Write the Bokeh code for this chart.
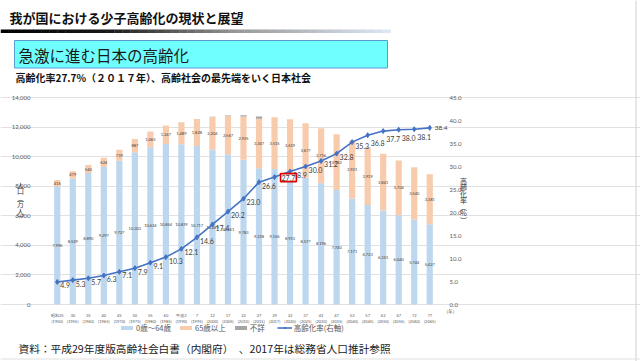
import numpy as np
from bokeh.plotting import figure
from bokeh.models import (Range1d, LinearAxis, FixedTicker, NumeralTickFormatter, Span,
                          ColumnDataSource, LabelSet, Label, Legend, LegendItem, BoxAnnotation)
from bokeh.embed import file_html
from bokeh.resources import INLINE
from bokeh.core.properties import value

JP = "Noto Sans CJK JP"
NUM = "Lato"

# ---------------- data ----------------
page_title = "我が国における少子高齢化の現状と展望"
banner_text = "急激に進む日本の高齢化"
subtitle_text = "高齢化率27.7%（２０１７年）、高齢社会の最先端をいく日本社会"
source_text = "資料：平成29年度版高齢社会白書（内閣府）　、2017年は総務省人口推計参照"

year_labels = ["昭和25\n(1950)", "30\n(1955)", "35\n(1960)", "40\n(1965)", "45\n(1970)",
               "50\n(1975)", "55\n(1980)", "60\n(1985)", "平成2\n(1990)", "7\n(1995)",
               "12\n(2000)", "17\n(2005)", "22\n(2010)", "27\n(2015)", "29\n(2017)",
               "32\n(2020)", "37\n(2025)", "42\n(2030)", "47\n(2035)", "52\n(2040)",
               "57\n(2045)", "62\n(2050)", "67\n(2055)", "72\n(2060)", "77\n(2065)"]
pop_0_64 = [7996, 8529, 8890, 9297, 9727, 10303, 10634, 10854, 10839, 10717,
            10469, 10161, 9783, 9218, 9156, 8913, 8577, 8196, 7740, 7171,
            6723, 6351, 6040, 5744, 5427]
pop_65_over = [416, 479, 540, 624, 739, 887, 1065, 1247, 1489, 1828,
               2204, 2567, 2925, 3347, 3515, 3619, 3677, 3716, 3782, 3921,
               3919, 3841, 3704, 3540, 3381]
pop_unknown = [0, 0, 0, 0, 0, 0, 0, 0, 0, 0,
               20, 49, 98, 144, 0, 0, 0, 0, 0, 0,
               0, 0, 0, 0, 0]
aging_rate = [4.9, 5.3, 5.7, 6.3, 7.1, 7.9, 9.1, 10.3, 12.1, 14.6,
              17.4, 20.2, 23.0, 26.6, 27.7, 28.9, 30.0, 31.2, 32.8, 35.3,
              36.8, 37.7, 38.0, 38.1, 38.4]
pop_ticks = [0, 2000, 4000, 6000, 8000, 10000, 12000, 14000]
rate_ticks = [0, 5, 10, 15, 20, 25, 30, 35, 40, 45]
series_names = ["0歳～64歳", "65歳以上", "不詳", "高齢化率(右軸)"]
left_title = "人口（万人）"
right_title = "高齢化率（%）"
year_unit = "（年）"
highlight_index = 14

# ---------------- styles / geometry ----------------
W, H = 640, 361
C_YOUNG = "#BDD7EE"
C_OLD = "#F8CBAD"
C_UNK = "#A5A5A5"
C_LINE = "#4472C4"
C_TXT = "#595959"
n = len(year_labels)
Y_MAX = 14000
R_MAX = 45
PX0, PX1, PY0, PY1 = 49, 437, 97, 304   # chart plot area in page pixels


def dx(px):
    return -0.5 + (px - PX0) / (PX1 - PX0) * n


def dy(py):
    return (PY1 - py) / (PY1 - PY0) * Y_MAX


def dr(py):
    return (PY1 - py) / (PY1 - PY0) * R_MAX


xs = list(range(n))
src = ColumnDataSource(dict(
    x=xs, young=pop_0_64, old=pop_65_over, unk=pop_unknown,
    young_mid=[v / 2 for v in pop_0_64],
    old_mid=[a + b / 2 for a, b in zip(pop_0_64, pop_65_over)],
    young_txt=[f"{v:,}" for v in pop_0_64],
    old_txt=[f"{v:,}" for v in pop_65_over],
))

p = figure(width=W, height=H, x_range=Range1d(dx(0), dx(W)), y_range=Range1d(dy(H), dy(0)),
           output_backend="svg", toolbar_location=None, min_border=0)
p.outline_line_color = None
p.xgrid.visible = False
p.ygrid.ticker = FixedTicker(ticks=pop_ticks)
p.ygrid.grid_line_color = "#D9D9D9"
p.ygrid.grid_line_width = 0.8
p.ygrid.bounds = (-0.5, n - 0.5)

p.extra_y_ranges = {"rate": Range1d(dr(H), dr(0))}

yax = p.yaxis[0]
yax.ticker = FixedTicker(ticks=pop_ticks)
yax.formatter = NumeralTickFormatter(format="0,0")
yax.fixed_location = -0.5
rax = LinearAxis(y_range_name="rate", ticker=FixedTicker(ticks=rate_ticks),
                 formatter=NumeralTickFormatter(format="0.0"), fixed_location=n - 0.5)
p.add_layout(rax, "right")

xax = p.xaxis[0]
xax.ticker = FixedTicker(ticks=xs)
xax.major_label_overrides = {i: lab for i, lab in enumerate(year_labels)}
xax.fixed_location = 0

for ax in [yax, rax, xax]:
    ax.axis_line_color = None
    ax.major_tick_line_color = None
    ax.minor_tick_line_color = None
    ax.major_label_text_color = C_TXT
    ax.major_label_text_font = NUM
yax.major_label_text_font_size = "6px"
rax.major_label_text_font_size = "6px"
yax.major_label_standoff = 13
rax.major_label_standoff = 6
xax.major_label_text_font_size = "4px"
xax.major_label_standoff = 2

bars = p.vbar_stack(["young", "old", "unk"], x="x", width=0.4, source=src,
                    color=[C_YOUNG, C_OLD, C_UNK], line_color=None)

p.text(x="x", y="young_mid", text="young_txt", source=src, text_font=value(NUM),
       text_font_size="4px", text_align="center", text_baseline="middle", text_color="#404040")
p.text(x="x", y="old_mid", text="old_txt", source=src, text_font=value(NUM),
       text_font_size="4px", text_align="center", text_baseline="middle", text_color="#404040")

line_r = p.line(xs, aging_rate, y_range_name="rate", line_color=C_LINE, line_width=1.6)
mark_r = p.scatter(xs, aging_rate, y_range_name="rate", marker="diamond", size=5,
                   fill_color=C_LINE, line_color=C_LINE)

idx = [i for i in range(n) if i not in (highlight_index, n - 1)]
lab_src = ColumnDataSource(dict(
    x=[xs[i] for i in idx], y=[aging_rate[i] for i in idx],
    t=[f"{aging_rate[i]:.1f}" for i in idx],
    dy=[-8 if aging_rate[i] > 36.5 else -3.5 for i in idx],
))
p.add_layout(LabelSet(x="x", y="y", text="t", source=lab_src, y_range_name="rate",
                      x_offset=3, y_offset="dy", text_font=value(NUM), text_font_size="7px",
                      text_color="#404040", text_baseline="middle", text_align="left"))
p.add_layout(Label(x=xs[-1], y=aging_rate[-1], y_range_name="rate", text=f"{aging_rate[-1]:.1f}",
                   x_offset=5, y_offset=0, text_font=NUM, text_font_size="6.5px",
                   text_color="#404040", text_baseline="middle", text_align="left"))
p.add_layout(Label(x=xs[highlight_index], y=aging_rate[highlight_index], y_range_name="rate",
                   text=f"{aging_rate[highlight_index]:.1f}", x_offset=6, y_offset=-0.5,
                   text_font=NUM, text_font_size="7px", text_color="#404040",
                   text_baseline="middle", text_align="left",
                   border_line_color="#E00000", border_line_width=1.6,
                   background_fill_color="white", padding=1))

# vertical (stacked) axis titles
VERT = {"（": "︵", "）": "︶"}


def vertical_title(text, px, py_center, step):
    chars = [VERT.get(c, c) for c in text]
    k = len(chars)
    ys = [dy(py_center + (i - (k - 1) / 2) * step) for i in range(k)]
    s = ColumnDataSource(dict(x=[dx(px)] * k, y=ys, t=chars))
    p.add_layout(LabelSet(x="x", y="y", text="t", source=s, text_font=value(JP),
                          text_font_size="7px", text_color="#333333",
                          text_align="center", text_baseline="middle"))


vertical_title(left_title, 20, 200.5, 6.6)
vertical_title(right_title, 463, 199.5, 6.5)

p.add_layout(Label(x=dx(450), y=dy(310), text=year_unit, text_font=JP, text_font_size="4.5px",
                   text_color=C_TXT, text_align="center", text_baseline="middle"))

legend = Legend(items=[
    LegendItem(label=series_names[0], renderers=[bars[0]]),
    LegendItem(label=series_names[1], renderers=[bars[1]]),
    LegendItem(label=series_names[2], renderers=[bars[2]]),
    LegendItem(label=series_names[3], renderers=[line_r, mark_r]),
], orientation="horizontal", location=(119, H - 333), label_text_font=JP,
    label_text_font_size="7.5px", label_text_color=C_TXT, glyph_width=15, glyph_height=5,
    label_height=8, label_standoff=2, spacing=7, padding=2, margin=0,
    border_line_color=None, background_fill_alpha=0)
p.add_layout(legend, "center")

# ---------------- slide decorations (header / footer) ----------------
p.add_layout(Label(x=dx(9), y=dy(16.5), text=page_title, text_font=JP, text_font_size="13px",
                   text_font_style="bold", text_baseline="middle", text_align="left",
                   text_color="#111111"))

stops_t = [0.0, 0.28, 0.6, 1.0]
stops_c = [(0, 0, 0), (25, 25, 25), (150, 150, 150), (222, 232, 246)]
edges = np.linspace(0, 390, 49)
for a, b in zip(edges[:-1], edges[1:]):
    t = ((a + b) / 2) / 390
    rgb = [int(round(np.interp(t, stops_t, [c[k] for c in stops_c]))) for k in range(3)]
    p.add_layout(BoxAnnotation(left=dx(a), right=dx(b + 0.3), top=dy(29), bottom=dy(32.5),
                               fill_color="#%02x%02x%02x" % tuple(rgb), fill_alpha=1,
                               line_color=None, level="underlay"))

p.add_layout(BoxAnnotation(left=dx(14), right=dx(387), top=dy(40), bottom=dy(67.5),
                           fill_color="#70FFFF", fill_alpha=1, line_color="#5B9BD5",
                           line_width=1, line_alpha=1, level="underlay"))
p.add_layout(Label(x=dx(18), y=dy(54), text=banner_text, text_font=JP, text_font_size="15.5px",
                   text_baseline="middle", text_align="left", text_color="#1A1A1A"))
p.add_layout(Label(x=dx(15), y=dy(77), text=subtitle_text, text_font=JP, text_font_size="10px",
                   text_font_style="bold", text_baseline="middle", text_align="left",
                   text_color="#111111"))
p.add_layout(Label(x=dx(18), y=dy(347.5), text=source_text, text_font=JP, text_font_size="10.7px",
                   text_baseline="middle", text_align="left", text_color="#1A1A1A"))

# slide edges
p.add_layout(Span(location=dx(635.5), dimension="height", line_color="#D0D0D0", line_width=1))
p.add_layout(Span(location=dy(358.5), dimension="width", line_color="#E0E0E0", line_width=1))

open("out.html", "w").write(file_html(p, INLINE))
